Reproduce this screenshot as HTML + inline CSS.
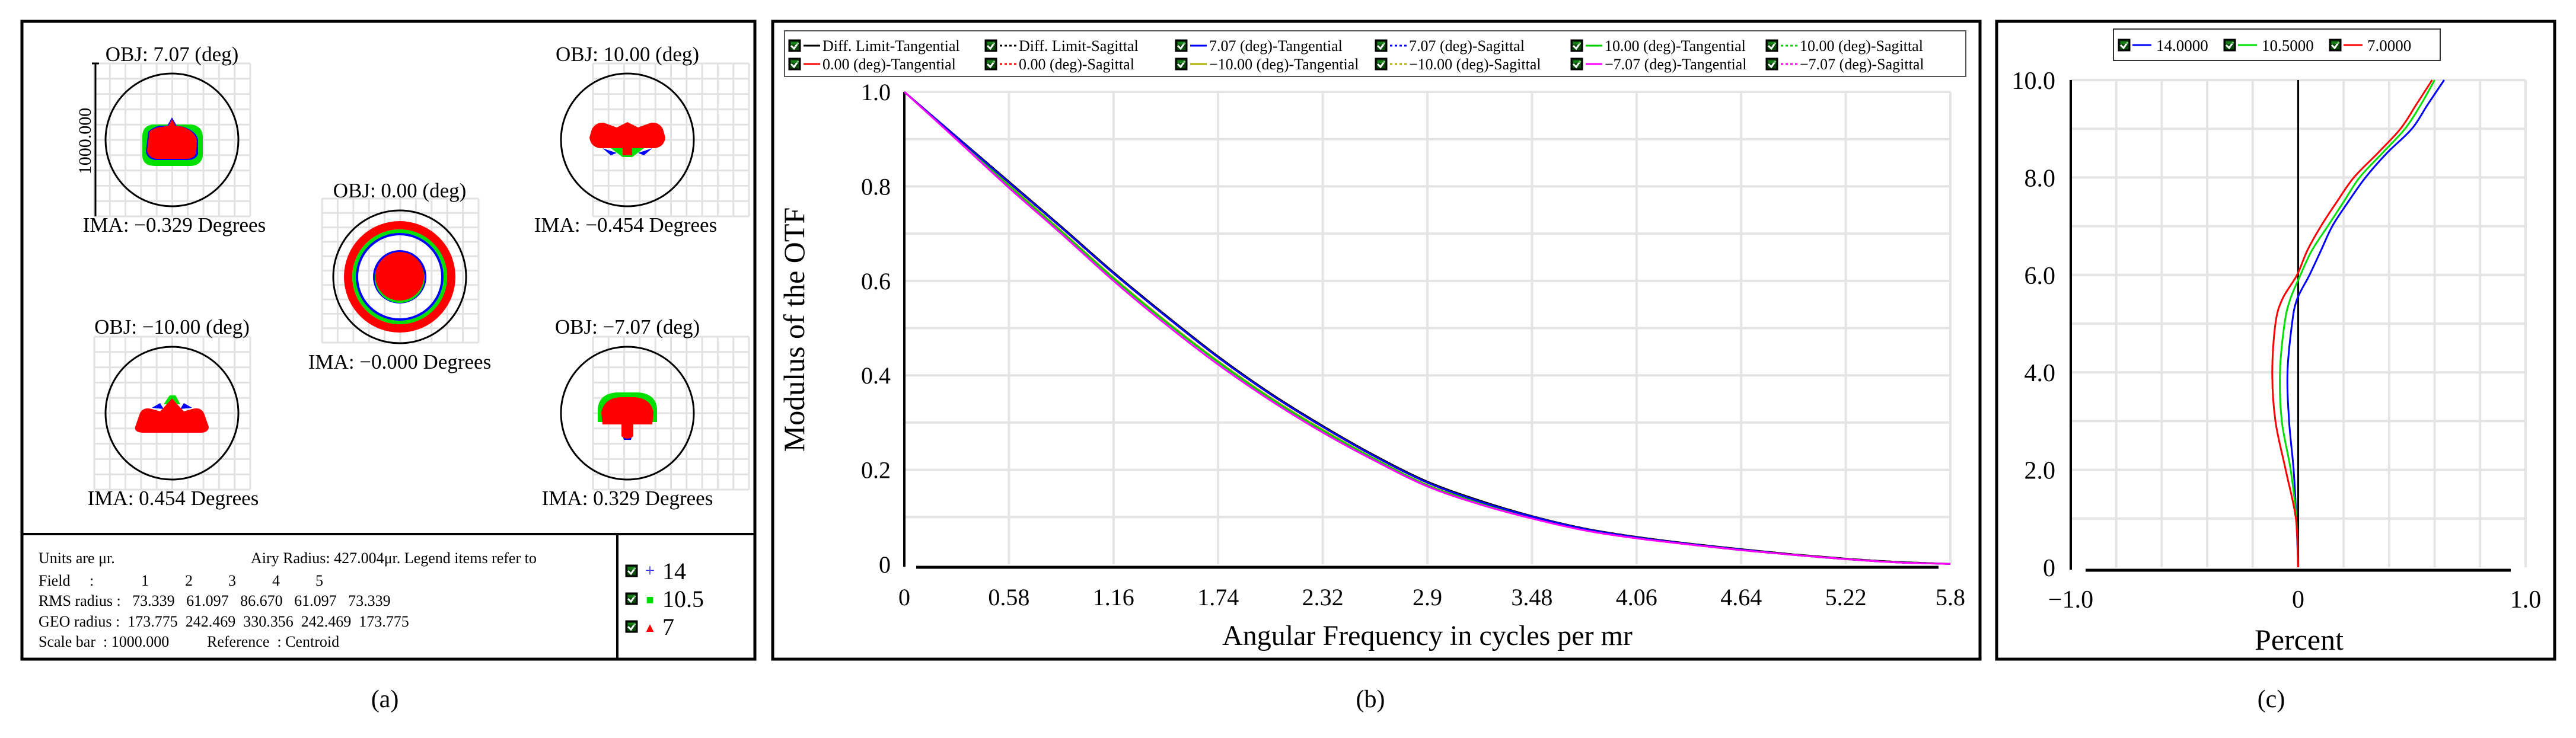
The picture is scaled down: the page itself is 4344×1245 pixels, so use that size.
<!DOCTYPE html>
<html><head><meta charset="utf-8"><style>
html,body{margin:0;padding:0;background:#fff;}
svg{display:block;}
text{font-family:"Liberation Serif",serif;}
</style></head>
<body>
<svg id="root" width="4344" height="1245" viewBox="0 0 4344 1245" xmlns="http://www.w3.org/2000/svg">
<defs>
<g id="chk"><rect x="0" y="0" width="18" height="18" fill="#0a4a0a" stroke="#000" stroke-width="3"/><path d="M3 9 L8 14 L15 4" fill="none" stroke="#fff" stroke-width="3"/><rect x="3" y="3" width="12" height="4" fill="#20a020" opacity="0.6"/></g>
</defs>

<!-- ============ PANEL A ============ -->
<g>
<rect x="37" y="36" width="1236" height="1076" fill="#fff" stroke="#000" stroke-width="5"/>
<line x1="37" y1="901" x2="1273" y2="901" stroke="#000" stroke-width="4"/>
<line x1="1041" y1="901" x2="1041" y2="1112" stroke="#000" stroke-width="4"/>
<g id="spots"></g>

<g font-size="26" fill="#000">
<text x="65" y="950">Units are μr.</text>
<text x="423" y="950">Airy Radius: 427.004μr. Legend items refer to</text>
<text x="65" y="988">Field&#160;&#160;&#160;&#160;&#160;:</text>
<text x="238" y="988">1</text><text x="312" y="988">2</text><text x="385" y="988">3</text><text x="459" y="988">4</text><text x="532" y="988">5</text>
<text x="65" y="1022">RMS radius :&#160;&#160;&#160;73.339&#160;&#160;&#160;61.097&#160;&#160;&#160;86.670&#160;&#160;&#160;61.097&#160;&#160;&#160;73.339</text>
<text x="65" y="1057">GEO radius :&#160;&#160;173.775&#160;&#160;242.469&#160;&#160;330.356&#160;&#160;242.469&#160;&#160;173.775</text>
<text x="65" y="1091">Scale bar&#160;&#160;: 1000.000</text>
<text x="349" y="1091">Reference&#160;&#160;: Centroid</text>
</g>
<g id="legA"></g>
<text x="649" y="1193" font-size="42" text-anchor="middle">(a)</text>
</g>

<!-- ============ PANEL B ============ -->
<g>
<rect x="1303" y="36" width="2036" height="1076" fill="#fff" stroke="#000" stroke-width="5"/>
<rect x="1323" y="52" width="1992" height="77" fill="#fff" stroke="#555" stroke-width="2"/>
<g id="legB"></g>
<g id="gridB"></g>
<g id="ticksB" font-size="40"></g>
<g id="curvesB"></g>
<text transform="translate(1356,556) rotate(-90)" font-size="50" text-anchor="middle">Modulus of the OTF</text>
<text x="2407" y="1088" font-size="48" text-anchor="middle">Angular Frequency in cycles per mr</text>
<text x="2311" y="1193" font-size="42" text-anchor="middle">(b)</text>
</g>

<!-- ============ PANEL C ============ -->
<g>
<rect x="3367" y="36" width="941" height="1076" fill="#fff" stroke="#000" stroke-width="5"/>
<rect x="3564" y="49" width="551" height="53" fill="#fff" stroke="#333" stroke-width="2"/>
<g id="legC"></g>
<g id="gridC"></g>
<g id="ticksC" font-size="42"></g>
<g id="curvesC"></g>
<text x="3877" y="1096" font-size="50" text-anchor="middle">Percent</text>
<text x="3830" y="1193" font-size="42" text-anchor="middle">(c)</text>
</g>
</svg>

<script>
// ---------- MTF data (panel b) ----------
const mtfFreq = [0,0.29,0.58,0.87,1.16,1.45,1.74,2.03,2.32,2.61,2.9,3.19,3.48,3.77,4.06,4.35,4.64,4.93,5.22,5.51,5.8];
const mtfDiff = [1,0.905,0.81,0.715,0.618,0.527,0.44,0.362,0.293,0.23,0.175,0.135,0.102,0.076,0.058,0.044,0.032,0.021,0.012,0.005,0.001];
const mtfRed  = [1,0.904,0.808,0.713,0.616,0.525,0.438,0.36,0.291,0.228,0.173,0.133,0.101,0.075,0.057,0.043,0.031,0.02,0.011,0.004,0.001];
const mtfYel  = [1,0.902,0.803,0.706,0.607,0.515,0.43,0.353,0.285,0.223,0.168,0.13,0.099,0.073,0.056,0.042,0.03,0.02,0.011,0.004,0.001];
const mtfGrn  = [1,0.901,0.801,0.704,0.605,0.513,0.428,0.351,0.283,0.222,0.167,0.129,0.098,0.073,0.056,0.042,0.03,0.02,0.011,0.004,0.001];
const mtfMag  = [1,0.899,0.797,0.7,0.6,0.508,0.423,0.347,0.279,0.219,0.165,0.127,0.097,0.072,0.055,0.042,0.03,0.02,0.011,0.004,0.001];
const mtfXTicks = ["0","0.58","1.16","1.74","2.32","2.9","3.48","4.06","4.64","5.22","5.8"];
const mtfYTicks = ["0","0.2","0.4","0.6","0.8","1.0"];

// ---------- Distortion data (panel c) ----------
const distY   = [0,1,2,3,4,5,5.5,6,6.5,7,7.5,8,8.5,9,9.5,10];
const dist14  = [0,-0.008,-0.02,-0.04,-0.047,-0.027,-0.005,0.05,0.1,0.15,0.22,0.296,0.39,0.5,0.57,0.642];
const dist105 = [0,-0.008,-0.033,-0.072,-0.08,-0.06,-0.035,0.01,0.06,0.13,0.2,0.27,0.37,0.47,0.54,0.6];
const dist7   = [0,-0.01,-0.055,-0.1,-0.114,-0.1,-0.07,-0.005,0.04,0.1,0.17,0.245,0.35,0.45,0.52,0.589];
const distXTicks = ["\u22121.0","0","1.0"];
const distYTicks = ["0","2.0","4.0","6.0","8.0","10.0"];

const NS="http://www.w3.org/2000/svg";
function mk(tag, attrs, parent){const e=document.createElementNS(NS,tag);for(const k in attrs)e.setAttribute(k,attrs[k]);parent.appendChild(e);return e;}
function smooth(pts){let d="M"+pts[0][0]+" "+pts[0][1];for(let i=0;i<pts.length-1;i++){const p0=pts[i-1]||pts[i],p1=pts[i],p2=pts[i+1],p3=pts[i+2]||p2;
const c1=[p1[0]+(p2[0]-p0[0])/6,p1[1]+(p2[1]-p0[1])/6],c2=[p2[0]-(p3[0]-p1[0])/6,p2[1]-(p3[1]-p1[1])/6];
d+=" C"+c1[0]+" "+c1[1]+" "+c2[0]+" "+c2[1]+" "+p2[0]+" "+p2[1];}return d;}

// ---------- Panel B ----------
const bx0=1525,bx1=3289,by0=952,by1=155;
const xB=f=>bx0+f/5.8*(bx1-bx0);
const yB=v=>by0-v*(by0-by1);
const gB=document.getElementById('gridB');
for(let i=1;i<=10;i++){const l=mk('line',{x1:xB(i*0.58),x2:xB(i*0.58),y1:by1,y2:by0,stroke:'#e4e4e4','stroke-width':4},gB);

}
for(let i=1;i<=10;i++){const l=mk('line',{x1:bx0,x2:bx1,y1:yB(i*0.1),y2:yB(i*0.1),stroke:'#e4e4e4','stroke-width':4},gB);

}
const axB1=mk('line',{x1:bx0,x2:bx0,y1:by1,y2:by0+4,stroke:'#000','stroke-width':4},gB);


const axB2=mk('line',{x1:bx0+20,x2:bx1-20,y1:by0+5,y2:by0+5,stroke:'#000','stroke-width':5},gB);


const tB=document.getElementById('ticksB');
mtfXTicks.forEach((t,i)=>{const e=mk('text',{x:xB(i*0.58),y:1021,'text-anchor':'middle'},tB);e.textContent=t;

});
mtfYTicks.forEach((t,i)=>{const e=mk('text',{x:1502,y:yB(i*0.2)+14,'text-anchor':'end'},tB);e.textContent=t;

});
const cB=document.getElementById('curvesB');
const seriesB=[[mtfDiff,'#000',''],[mtfDiff,'#000','6 6'],[mtfRed,'#ff0000',''],[mtfRed,'#ff0000','6 6'],[mtfYel,'#b0b000',''],[mtfYel,'#b0b000','6 6'],[mtfGrn,'#00d000',''],[mtfGrn,'#00d000','6 6'],[mtfRed,'#0000ff',''],[mtfRed,'#0000ff','6 6'],[mtfMag,'#ff00ff','6 6'],[mtfMag,'#ff00ff','']];
seriesB.forEach(s=>{const p=mk('path',{d:smooth(mtfFreq.map((f,i)=>[xB(f),yB(s[0][i])])),fill:'none',stroke:s[1],'stroke-width':3,'stroke-dasharray':s[2]||'none'},cB);

});
const legBItems=[["Diff. Limit-Tangential","#000",""],["Diff. Limit-Sagittal","#000","4 4"],["7.07 (deg)-Tangential","#0000ff",""],["7.07 (deg)-Sagittal","#0000ff","4 4"],["10.00 (deg)-Tangential","#00d000",""],["10.00 (deg)-Sagittal","#00d000","4 4"],
["0.00 (deg)-Tangential","#ff0000",""],["0.00 (deg)-Sagittal","#ff0000","4 4"],["\u221210.00 (deg)-Tangential","#b0b000",""],["\u221210.00 (deg)-Sagittal","#b0b000","4 4"],["\u22127.07 (deg)-Tangential","#ff00ff",""],["\u22127.07 (deg)-Sagittal","#ff00ff","4 4"]];
const legBX=[1331,1662,1983,2320,2650,2979];
const lB=document.getElementById('legB');
legBItems.forEach((it,i)=>{const cx=legBX[i%6],cy=i<6?77:108;
const g=mk('g',{},lB);


mk('use',{href:'#chk',x:cx,y:cy-9},g);
mk('line',{x1:cx+24,x2:cx+52,y1:cy,y2:cy,stroke:it[1],'stroke-width':3,'stroke-dasharray':it[2]||'none'},g);
const t=mk('text',{x:cx+56,y:cy+9,'font-size':26},g);t.textContent=it[0];});

// ---------- Panel C ----------
const cx0=3492,cx1=4259,cy0=957,cy1=135;
const xC=v=>cx0+(v+1)/2*(cx1-cx0);
const yC=v=>cy0-v/10*(cy0-cy1);
const gC=document.getElementById('gridC');
for(let i=1;i<=10;i++){const l=mk('line',{x1:xC(-1+i*0.2),x2:xC(-1+i*0.2),y1:cy1,y2:cy0,stroke:'#e4e4e4','stroke-width':4},gC);

}
for(let i=1;i<=10;i++){const l=mk('line',{x1:cx0,x2:cx1,y1:yC(i),y2:yC(i),stroke:'#e4e4e4','stroke-width':4},gC);

}
const axC1=mk('line',{x1:cx0,x2:cx0,y1:cy1,y2:cy0+4,stroke:'#000','stroke-width':4},gC);


const axC2=mk('line',{x1:cx0+25,x2:cx1-25,y1:cy0+5,y2:cy0+5,stroke:'#000','stroke-width':5},gC);


const axC3=mk('line',{x1:xC(0),x2:xC(0),y1:cy1,y2:cy0,stroke:'#000','stroke-width':3},gC);


const tC=document.getElementById('ticksC');
distXTicks.forEach((t,i)=>{const e=mk('text',{x:xC(-1+i),y:1025,'text-anchor':'middle'},tC);e.textContent=t;

});
distYTicks.forEach((t,i)=>{const e=mk('text',{x:3466,y:yC(i*2)+15,'text-anchor':'end'},tC);e.textContent=t;

});
const cC=document.getElementById('curvesC');
[[dist14,'#0000ff'],[dist105,'#00e000'],[dist7,'#ff0000']].forEach(s=>{const p=mk('path',{d:smooth(distY.map((y,i)=>[xC(s[0][i]),yC(y)])),fill:'none',stroke:s[1],'stroke-width':3},cC);

});
const lC=document.getElementById('legC');
[["14.0000","#0000ff",3573],["10.5000","#00e000",3751],["7.0000","#ff0000",3929]].forEach(it=>{const g=mk('g',{},lC);


mk('use',{href:'#chk',x:it[2],y:67},g);
mk('line',{x1:it[2]+23,x2:it[2]+55,y1:76,y2:76,stroke:it[1],'stroke-width':3},g);
const t=mk('text',{x:it[2]+63,y:86,'font-size':27},g);t.textContent=it[0];});

// ---------- Panel A spots ----------
const sp=document.getElementById('spots');
function grid(x0,y0,w,h){const g=mk('g',{},sp);


for(let i=0;i<=10;i++){mk('line',{x1:x0+i*w/10,x2:x0+i*w/10,y1:y0,y2:y0+h,stroke:'#e2e2e2','stroke-width':3},g);
mk('line',{x1:x0,x2:x0+w,y1:y0+i*h/10,y2:y0+i*h/10,stroke:'#e2e2e2','stroke-width':3},g);}}
function circ(cx,cy){const c=mk('circle',{cx:cx,cy:cy,r:112,fill:'none',stroke:'#000','stroke-width':3},sp);

}
function lbl(x,y,t,name,fs){const e=mk('text',{x:x,y:y,'text-anchor':'middle','font-size':fs},sp);e.textContent=t;

}
grid(159,107,263,258);grid(1000,107,263,258);grid(543,335,264,243);grid(159,568,263,258);grid(1000,568,263,258);
circ(290,236);circ(1058,236);circ(674,467);circ(290,697);circ(1058,697);
lbl(290,103,"OBJ: 7.07 (deg)","field-title",35);lbl(1058,103,"OBJ: 10.00 (deg)","field-title",35);
lbl(674,333,"OBJ: 0.00 (deg)","field-title",35);lbl(290,563,"OBJ: \u221210.00 (deg)","field-title",35);lbl(1058,563,"OBJ: \u22127.07 (deg)","field-title",35);
lbl(294,391,"IMA: \u22120.329 Degrees","image-height-label",35);lbl(1055,391,"IMA: \u22120.454 Degrees","image-height-label",35);
lbl(674,622,"IMA: \u22120.000 Degrees","image-height-label",35);lbl(292,852,"IMA: 0.454 Degrees","image-height-label",35);lbl(1058,852,"IMA: 0.329 Degrees","image-height-label",35);
// scale bar
const sb=mk('path',{d:"M161 107 L161 365 M155 107 L167 107",stroke:'#000','stroke-width':3,fill:'none'},sp);


const sbt=mk('text',{transform:"translate(153,238) rotate(-90)",'text-anchor':'middle','font-size':30},sp);sbt.textContent="1000.000";


function shp(d,fill,name){const p=mk('path',{d:d,fill:fill},sp);

}
// 7.07
shp("M240 230 Q240 212 258 210 L322 210 Q342 212 342 232 L342 262 Q340 280 320 280 L262 280 Q240 280 240 262 Z","#00e000","spot-10-5");
shp("M250 222 Q262 212 272 212 L282 212 L290 198 L298 212 L310 214 Q332 222 334 236 L334 260 Q330 270 316 270 L262 270 Q248 268 246 256 Z","#0000ff","spot-14");
shp("M252 222 Q262 214 274 214 L284 212 L290 201 L296 212 L308 214 Q330 222 332 238 L330 260 Q326 268 314 268 L264 268 Q250 266 248 254 Z","#ff0000","spot-7");
// 10.00
shp("M1030 250 L1050 265 L1066 265 L1086 250 Z","#00e000","spot-10-5");
shp("M1016 250 L1030 262 L1040 258 Z M1100 250 L1086 262 L1076 258 Z","#0000ff","spot-14");
shp("M998 218 Q1005 206 1018 207 L1040 215 L1058 206 L1076 215 L1098 207 Q1112 206 1118 218 L1122 232 Q1120 248 1104 250 L1066 250 L1066 262 L1050 262 L1050 250 L1012 250 Q996 248 994 232 Z","#ff0000","spot-7");
// center
mk('circle',{cx:674,cy:467,r:87,fill:'none',stroke:'#ff0000','stroke-width':14},sp);
mk('circle',{cx:674,cy:467,r:77,fill:'none',stroke:'#00e000','stroke-width':6},sp);
mk('circle',{cx:674,cy:467,r:72,fill:'none',stroke:'#0000ff','stroke-width':4},sp);
mk('circle',{cx:674,cy:467,r:45,fill:'#0000ff'},sp);
mk('circle',{cx:674,cy:469,r:42,fill:'#00e000'},sp);
mk('circle',{cx:674,cy:466,r:41,fill:'#ff0000'},sp);
// -10.00
shp("M276 682 L286 667 L296 667 L304 682 Z","#00e000","spot-10-5");
shp("M256 688 L270 680 L276 690 Z M324 688 L310 680 L304 690 Z","#0000ff","spot-14");
shp("M228 720 L236 697 Q242 686 256 690 L270 694 L283 680 L290 672 L297 680 L310 694 L324 690 Q338 686 344 697 L352 720 Q352 729 340 730 L240 730 Q226 729 228 720 Z","#ff0000","spot-7");
// -7.07
shp("M1008 690 Q1010 664 1040 662 L1076 662 Q1106 664 1108 690 L1108 712 L1008 712 Z","#00e000","spot-10-5");
shp("M1050 735 L1066 735 L1064 742 L1052 742 Z","#0000ff","spot-14");
shp("M1014 696 Q1018 672 1046 670 L1070 670 Q1098 672 1102 696 L1100 716 L1068 716 L1068 736 Q1058 744 1048 736 L1048 716 L1016 716 Z","#ff0000","spot-7");

// legend A
const lA=document.getElementById('legA');
[["14","#3333ff","+"],["10.5","#00e000","\u25A0"],["7","#ff0000","\u25B2"]].forEach((it,i)=>{const y=963+i*47;
const g=mk('g',{},lA);


mk('use',{href:'#chk',x:1056,y:y-9},g);
const m=mk('text',{x:1096,y:y+9,'font-size':i==0?30:22,fill:it[1],'text-anchor':'middle'},g);m.textContent=it[2];
const t=mk('text',{x:1117,y:y+14,'font-size':40},g);t.textContent=it[0];});
</script>
</body></html>
